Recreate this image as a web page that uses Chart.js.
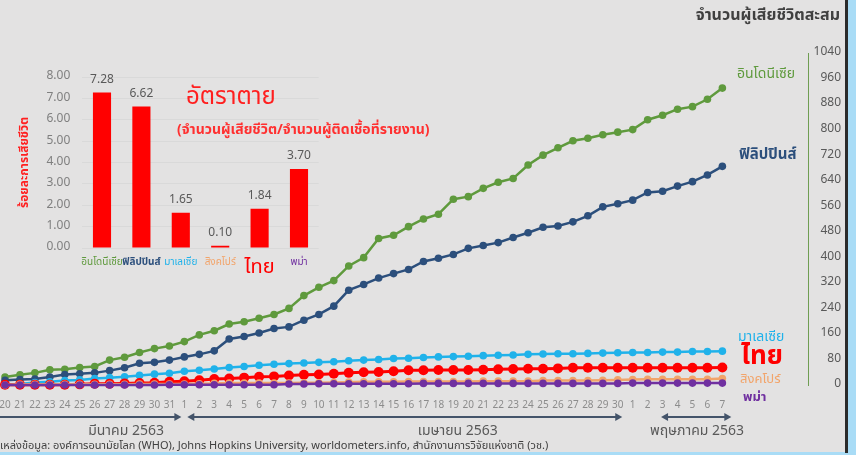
<!DOCTYPE html>
<html><head><meta charset="utf-8">
<script src="https://cdn.jsdelivr.net/npm/chart.js@4/dist/chart.umd.min.js"></script>
<style>
html,body{margin:0;padding:0;background:#a9dcf6;width:856px;height:455px;overflow:hidden}
#frame{position:absolute;left:0;top:0;width:845px;height:452px;background:#e3e2e2;overflow:hidden}
#rbar{position:absolute;left:845px;top:0;width:3px;height:453px;background:#2b2b2b}
#main{position:absolute;left:0;top:0}
#inset{position:absolute;left:0;top:60px}
</style></head><body>
<div id="frame">
  <canvas id="main" width="845" height="452"></canvas>
  <canvas id="inset" width="440" height="220"></canvas>
</div>
<div id="rbar"></div>
<script>
// ---------- data ----------
const dayLabels = ['20','21','22','23','24','25','26','27','28','29','30','31',
  '1','2','3','4','5','6','7','8','9','10','11','12','13','14','15','16','17','18','19','20','21','22','23','24','25','26','27','28','29','30',
  '1','2','3','4','5','6','7'];
const indonesia = [25,32,38,48,49,55,58,78,87,102,114,122,136,157,170,191,198,209,221,240,280,306,327,373,399,459,469,496,520,535,582,590,616,635,647,689,720,743,765,773,784,792,800,831,845,864,872,895,930];
const philippines = [15,17,19,25,33,35,38,45,54,68,71,78,88,96,107,144,152,163,177,182,203,221,247,297,315,335,349,362,387,397,409,428,437,446,462,477,494,498,511,530,558,568,579,603,607,623,637,658,685];
const malaysia = [2,3,8,10,14,16,20,23,26,30,34,37,43,46,50,55,58,62,65,67,69,71,73,76,78,80,83,84,86,88,89,90,92,93,94,96,97,98,98,99,100,101,102,102,103,103,105,105,106];
const thailand = [1,1,1,1,1,2,4,4,5,6,7,10,12,15,19,20,23,26,27,30,32,33,35,38,40,41,43,46,46,47,47,47,48,49,50,51,51,52,54,54,54,54,54,54,54,54,54,54,55];
const singapore = [0,2,2,2,2,2,2,2,2,3,3,3,3,4,5,6,6,6,6,6,7,7,8,9,10,10,10,11,11,11,11,11,12,12,12,12,14,14,14,14,15,16,17,18,18,18,18,18,20];
const myanmar = [0,0,0,0,0,0,0,0,0,0,0,1,1,1,1,1,1,1,1,3,3,4,4,4,4,4,4,4,5,5,5,5,5,5,5,5,5,5,5,5,5,5,6,6,6,6,6,6,6];

const rateCountries = ['อินโดนีเซีย','ฟิลิปปินส์','มาเลเซีย','สิงคโปร์','ไทย','พม่า'];
const rateValues = [7.28, 6.62, 1.65, 0.10, 1.84, 3.70];
const rateTicks = [0,1,2,3,4,5,6,7,8];
const deathTicksMax = 1040;

// ---------- styles ----------
const FONT = "'Noto Sans Thai','Tahoma','Noto Sans','DejaVu Sans',sans-serif";
const C = {ind:'#5f9a3d', phi:'#2c4f7c', mal:'#20b2ea', tha:'#ff0000', sin:'#f2a46a', mya:'#7030a0'};
const pts = a => a.map((v,i)=>({x:i,y:v}));
function ds(label, arr, color, r, w, order){
  return {label, data:pts(arr), borderColor:color, backgroundColor:color, pointBackgroundColor:color,
    pointBorderColor:color, pointRadius:r, pointBorderWidth:0, borderWidth:w, order, clip:false, tension:0};
}

function arrow(ctx, x1, x2, y, headL, headR){
  ctx.save(); ctx.strokeStyle='#44546a'; ctx.fillStyle='#44546a'; ctx.lineWidth=2;
  ctx.beginPath(); ctx.moveTo(x1 + (headL?5:0), y); ctx.lineTo(x2 - (headR?5:0), y); ctx.stroke();
  if (headR){ ctx.beginPath(); ctx.moveTo(x2,y); ctx.lineTo(x2-7,y-4); ctx.lineTo(x2-7,y+4); ctx.closePath(); ctx.fill(); }
  if (headL){ ctx.beginPath(); ctx.moveTo(x1,y); ctx.lineTo(x1+7,y-4); ctx.lineTo(x1+7,y+4); ctx.closePath(); ctx.fill(); }
  ctx.restore();
}
function txt(ctx, s, x, y, color, font, align){
  ctx.save(); ctx.fillStyle=color; ctx.font=font; ctx.textAlign=align||'left'; ctx.textBaseline='middle';
  ctx.fillText(s, x, y); ctx.restore();
}

const annot = {
  id:'annot',
  afterDraw(c){
    const ctx=c.ctx, xs=c.scales.x;
    txt(ctx,'จำนวนผู้เสียชีวิตสะสม',840,17,'#404040','bold 16px '+FONT,'right');
    // series labels
    txt(ctx,'อินโดนีเซีย',737,75,C.ind,'14px '+FONT);
    txt(ctx,'ฟิลิปปินส์',739,156,C.phi,'bold 15px '+FONT);
    txt(ctx,'มาเลเซีย',738,338,C.mal,'14px '+FONT);
    txt(ctx,'ไทย',741,359,C.tha,'bold 26px '+FONT);
    txt(ctx,'สิงคโปร์',740,380,C.sin,'13px '+FONT);
    txt(ctx,'พม่า',743,398,C.mya,'bold 13px '+FONT);
    // month arrows
    const y=417;
    arrow(ctx, -10, xs.getPixelForValue(11.8), y, false, true);
    arrow(ctx, xs.getPixelForValue(12.2), xs.getPixelForValue(41.3), y, true, true);
    arrow(ctx, xs.getPixelForValue(43.9), xs.getPixelForValue(48.6), y, true, true);
    txt(ctx,'มีนาคม 2563',xs.getPixelForValue(8.1),432,'#595959','14px '+FONT,'center');
    txt(ctx,'เมษายน 2563',xs.getPixelForValue(30.3),432,'#595959','14px '+FONT,'center');
    txt(ctx,'พฤษภาคม 2563',xs.getPixelForValue(46.3),432,'#595959','14px '+FONT,'center');
    txt(ctx,'แหล่งข้อมูล: องค์การอนามัยโลก (WHO), Johns Hopkins University, worldometers.info, สำนักงานการวิจัยแห่งชาติ (วช.)',-3,447,'#404040','11px '+FONT,'left');
  }
};

new Chart(document.getElementById('main'), {
  type:'line',
  data:{datasets:[
    ds('อินโดนีเซีย', indonesia, C.ind, 3.8, 2.5, 5),
    ds('ฟิลิปปินส์', philippines, C.phi, 3.8, 2.5, 4),
    ds('มาเลเซีย', malaysia, C.mal, 3.8, 2.5, 3),
    ds('ไทย', thailand, C.tha, 5, 3, 2),
    ds('สิงคโปร์', singapore, C.sin, 3.8, 2.5, 1),
    ds('พม่า', myanmar, C.mya, 3.8, 2.5, 0)
  ]},
  options:{
    responsive:false, animation:false, devicePixelRatio:1,
    layout:{padding:{top:53,left:2,right:4,bottom:0}},
    plugins:{legend:{display:false}, tooltip:{enabled:false}},
    scales:{
      x:{type:'linear', min:0, max:53.73, grid:{display:false, drawTicks:false}, border:{display:false},
         ticks:{stepSize:1, autoSkip:false, maxRotation:0, padding:15, color:'#8c8c8c', font:{size:10, family:FONT},
           callback:(v)=> (Number.isInteger(v) && v < dayLabels.length) ? dayLabels[v] : ''},
         afterFit:s=>{s.height=67; s.paddingLeft=0; s.paddingRight=0;}},
      y:{position:'right', min:0, max:deathTicksMax, grid:{display:false, drawTicks:false},
         border:{display:true, color:'#6f9d52', width:1},
         ticks:{stepSize:80, crossAlign:'far', padding:2, color:'#595959', font:{size:12, family:FONT}, callback:v=>String(v)},
         afterFit:s=>{s.width=33; s.paddingTop=0; s.paddingBottom=0;}}
    }
  },
  plugins:[annot]
});

const barLabels = {
  id:'barLabels',
  afterDatasetsDraw(c){
    const ctx=c.ctx, meta=c.getDatasetMeta(0);
    meta.data.forEach((b,i)=>{
      txt(ctx, rateValues[i].toFixed(2), b.x, b.y-12, '#595959', '12px '+FONT, 'center');
    });
    txt(ctx,'อัตราตาย',186,39,'#ff1f1f','24px '+FONT,'left');
    txt(ctx,'(จำนวนผู้เสียชีวิต/จำนวนผู้ติดเชื้อที่รายงาน)',177,71,'#ff3030','bold 14px '+FONT,'left');
  }
};
const catColors = [C.ind, C.phi, C.mal, C.sin, C.tha, C.mya];
new Chart(document.getElementById('inset'), {
  type:'bar',
  data:{labels:rateCountries, datasets:[{data:rateValues, backgroundColor:'#ff0000', categoryPercentage:1, barPercentage:0.46}]},
  options:{
    responsive:false, animation:false, devicePixelRatio:1,
    layout:{padding:{top:17,left:0,right:121.3,bottom:0}},
    plugins:{legend:{display:false}, tooltip:{enabled:false}},
    scales:{
      x:{grid:{display:false, drawTicks:false}, border:{display:false},
         ticks:{padding:9, autoSkip:false, maxRotation:0, minRotation:0, crossAlign:'near', color:(ctx)=>catColors[ctx.index],
           font:(ctx)=> ctx.index===4 ? {size:20, family:FONT} : {size:10, family:FONT, weight: ctx.index===1?'bold':'normal'}},
         afterFit:s=>{s.height=32; s.paddingLeft=0; s.paddingRight=0;}},
      y:{min:0, max:8, grid:{color:'#d9d9d9', drawTicks:false}, border:{display:false},
         afterBuildTicks:s=>{s.ticks = rateTicks.map(v=>({value:v}));},
         ticks:{padding:12, color:'#7f7f7f', font:{size:12, family:FONT}, callback:v=>Number(v).toFixed(2)},
         title:{display:true, text:'ร้อยละการเสียชีวิต', color:'#ff2020', font:{size:12, weight:'bold', family:FONT}, padding:{top:18,bottom:0}},
         afterFit:s=>{s.width=82.3; s.paddingTop=0; s.paddingBottom=0;}}
    }
  },
  plugins:[barLabels]
});
</script>
</body></html>
